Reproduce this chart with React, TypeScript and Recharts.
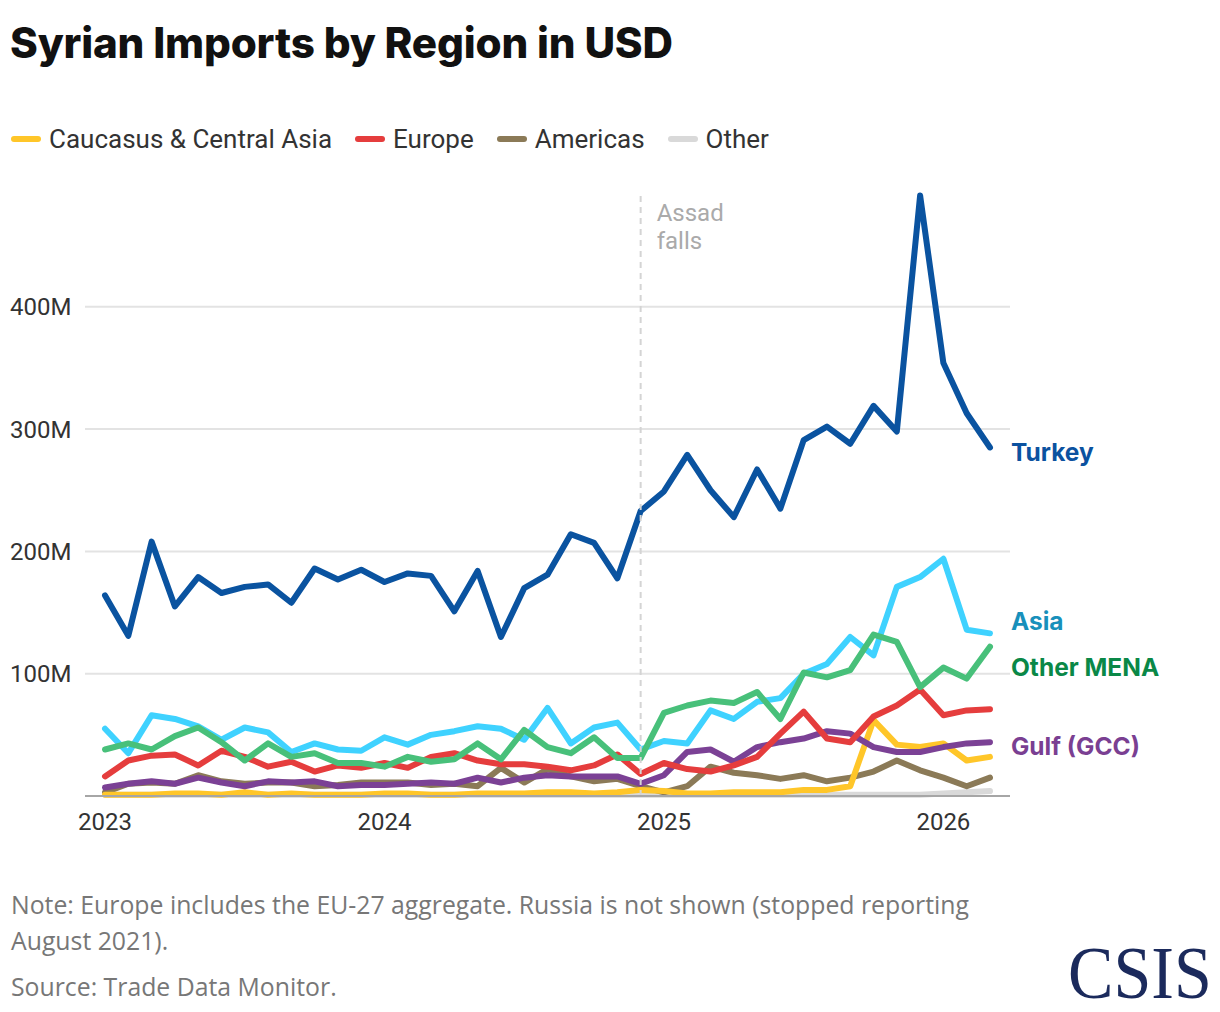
import React from 'react';
import { LineChart, Line, XAxis, YAxis, CartesianGrid, ReferenceLine, LabelList } from 'recharts';

// monthly, Jan 2023 .. Mar 2026 (values in millions USD)
const monthIndex = Array.from({ length: 39 }, (_, i) => i);
const yearTicks = [0, 12, 24, 36];
const yearLabels = ['2023', '2024', '2025', '2026'];
const valueTicks = [100, 200, 300, 400];

const turkey = [164, 131, 208, 155, 179, 166, 171, 173, 158, 186, 177, 185, 175, 182, 180, 151, 184, 130, 170, 181, 214, 207, 178, 233, 249, 279, 250, 228, 267, 235, 291, 302, 288, 319, 298, 491, 354, 313, 285];
const asia = [55, 35, 66, 63, 57, 46, 56, 52, 36, 43, 38, 37, 48, 42, 50, 53, 57, 55, 46, 72, 43, 56, 60, 38, 45, 43, 70, 63, 77, 80, 100, 108, 130, 115, 171, 179, 194, 136, 133];
const otherMena = [38, 43, 38, 49, 56, 44, 29, 43, 32, 35, 27, 27, 24, 32, 28, 30, 43, 30, 54, 40, 35, 48, 31, 31, 68, 74, 78, 76, 85, 63, 101, 97, 103, 132, 126, 89, 105, 96, 122];
const europe = [16, 29, 33, 34, 25, 37, 32, 24, 28, 20, 25, 23, 27, 23, 32, 35, 29, 26, 26, 24, 21, 25, 34, 18, 27, 22, 20, 25, 32, 51, 69, 47, 44, 65, 74, 87, 66, 70, 71];
const gulf = [7, 10, 12, 10, 15, 11, 8, 12, 11, 12, 8, 9, 9, 10, 11, 10, 15, 11, 15, 17, 16, 16, 16, 10, 17, 36, 38, 28, 40, 44, 47, 53, 51, 40, 36, 36, 40, 43, 44];
const americas = [3, 10, 11, 10, 17, 12, 10, 11, 11, 8, 9, 11, 11, 11, 9, 10, 8, 23, 11, 22, 16, 12, 14, 8, 3, 8, 24, 19, 17, 14, 17, 12, 15, 20, 29, 21, 15, 8, 15];
const caucasus = [1, 1, 1, 2, 2, 1, 3, 1, 2, 1, 1, 1, 2, 2, 1, 1, 2, 2, 2, 3, 3, 2, 3, 5, 4, 2, 2, 3, 3, 3, 5, 5, 8, 62, 42, 40, 43, 29, 32];
const other = [1, 1, 1, 1, 1, 1, 1, 1, 1, 1, 1, 1, 1, 1, 1, 1, 1, 1, 1, 1, 1, 1, 1, 1, 1, 1, 1, 1, 1, 1, 1, 1, 1, 1, 1, 1, 2, 3, 4];

const assadFallsIndex = 23; // Dec 2024

const data = monthIndex.map((i) => ({
  i,
  turkey: turkey[i],
  asia: asia[i],
  otherMena: otherMena[i],
  europe: europe[i],
  gulf: gulf[i],
  americas: americas[i],
  caucasus: caucasus[i],
  other: other[i],
}));

// draw order: first is at the bottom
const series = [
  { key: 'other', color: '#d9d9d9' },
  { key: 'americas', color: '#8b7a57' },
  { key: 'caucasus', color: '#ffc629' },
  { key: 'gulf', color: '#7b4195', label: 'Gulf (GCC)', labelColor: '#7a3f92', dy: 4 },
  { key: 'europe', color: '#e53d3d' },
  { key: 'asia', color: '#3fd2ff', label: 'Asia', labelColor: '#1890bb', dy: -12 },
  { key: 'otherMena', color: '#48c07a', label: 'Other MENA', labelColor: '#0a8847', dy: 20 },
  { key: 'turkey', color: '#0a53a0', label: 'Turkey', labelColor: '#0b52a0', dy: 5 },
];

const legendItems = [
  { name: 'Caucasus & Central Asia', color: '#ffc629' },
  { name: 'Europe', color: '#e53d3d' },
  { name: 'Americas', color: '#8b7a57' },
  { name: 'Other', color: '#d9d9d9' },
];

const sans = 'Roboto, "Noto Sans", sans-serif';
const lastIndex = monthIndex.length - 1;

const YTick = (props: any) => (
  <text x={10} y={props.y} dy="0.36em" fill="#333" fontSize={24} fontFamily={sans} textAnchor="start">
    {props.payload.value}M
  </text>
);

const XTick = (props: any) => (
  <text x={props.x} y={830} fill="#333" fontSize={24} fontFamily={sans} textAnchor="middle">
    {yearLabels[yearTicks.indexOf(props.payload.value)]}
  </text>
);

const endLabel = (s: any) => (props: any) => {
  if (props.index !== lastIndex) return null;
  return (
    <text
      x={props.x + 21}
      y={props.y + s.dy}
      dominantBaseline="central"
      fill={s.labelColor}
      fontSize={24.5}
      fontWeight={700}
      fontFamily='Inter, "Open Sans", sans-serif'
    >
      {s.label}
    </text>
  );
};

const AssadLabel = (props: any) => {
  const { x, y } = props.viewBox;
  return (
    <g fill="#aaaaaa" fontSize={24} fontFamily={sans}>
      <text x={x + 16} y={y + 17} dominantBaseline="central">Assad</text>
      <text x={x + 16} y={y + 45} dominantBaseline="central">falls</text>
    </g>
  );
};

export default function App() {
  return (
    <div style={{ position: 'absolute', left: 0, top: 0, width: 1220, height: 1012, background: '#fff', fontFamily: sans }}>
      <div style={{ position: 'absolute', left: 10, top: 17, fontFamily: 'Inter, sans-serif', fontWeight: 800, fontSize: 42.2, color: '#111', letterSpacing: -0.2, whiteSpace: 'nowrap' }}>
        Syrian Imports by Region in USD
      </div>

      <div style={{ position: 'absolute', left: 11, top: 124, display: 'flex', alignItems: 'center', fontSize: 26, color: '#333', whiteSpace: 'nowrap' }}>
        {legendItems.map((d) => (
          <div key={d.name} style={{ display: 'flex', alignItems: 'center', marginRight: 23 }}>
            <span style={{ display: 'inline-block', width: 30, height: 6, borderRadius: 3, background: d.color, marginRight: 8 }} />
            <span>{d.name}</span>
          </div>
        ))}
      </div>

      <div style={{ position: 'absolute', left: 0, top: 0 }}>
        <LineChart width={1220} height={860} data={data} margin={{ top: 184.5, right: 210, left: 0, bottom: 34 }}>
          <CartesianGrid vertical={false} horizontalValues={valueTicks} stroke="#e3e3e3" strokeWidth={2} />
          <XAxis
            dataKey="i"
            type="number"
            domain={[-0.86, 38.86]}
            ticks={yearTicks}
            height={30}
            tickLine={false}
            axisLine={{ stroke: '#a6a6a6', strokeWidth: 2 }}
            tick={XTick}
          />
          <YAxis
            type="number"
            domain={[0, 500]}
            ticks={valueTicks}
            width={85}
            axisLine={false}
            tickLine={false}
            tick={YTick}
          />
          {series.map((s) => (
            <Line
              key={s.key}
              type="linear"
              dataKey={s.key}
              stroke={s.color}
              strokeWidth={6}
              strokeLinecap="round"
              strokeLinejoin="round"
              dot={false}
              activeDot={false}
              isAnimationActive={false}
            >
              {s.label ? <LabelList dataKey={s.key} content={endLabel(s)} /> : null}
            </Line>
          ))}
          <ReferenceLine
            segment={[{ x: assadFallsIndex, y: 0 }, { x: assadFallsIndex, y: 491 }]}
            stroke="#d4d4d4"
            strokeWidth={2}
            strokeDasharray="6 5"
            label={AssadLabel}
          />
        </LineChart>
      </div>

      <div style={{ position: 'absolute', left: 11, top: 886, fontFamily: '"Open Sans", "Noto Sans", sans-serif', fontSize: 24.8, color: '#777', lineHeight: '36px', width: 1050, whiteSpace: 'nowrap' }}>
        <div>Note: Europe includes the EU-27 aggregate. Russia is not shown (stopped reporting</div>
        <div>August 2021).</div>
        <div style={{ marginTop: 10 }}>Source: Trade Data Monitor.</div>
      </div>

      <div style={{ position: 'absolute', left: 1068, top: 936, fontFamily: '"Liberation Serif", "DejaVu Serif", serif', fontSize: 74, color: '#1b2a5c', transform: 'scaleX(0.92)', transformOrigin: 'left top', lineHeight: '74px' }}>
        CSIS
      </div>
    </div>
  );
}
